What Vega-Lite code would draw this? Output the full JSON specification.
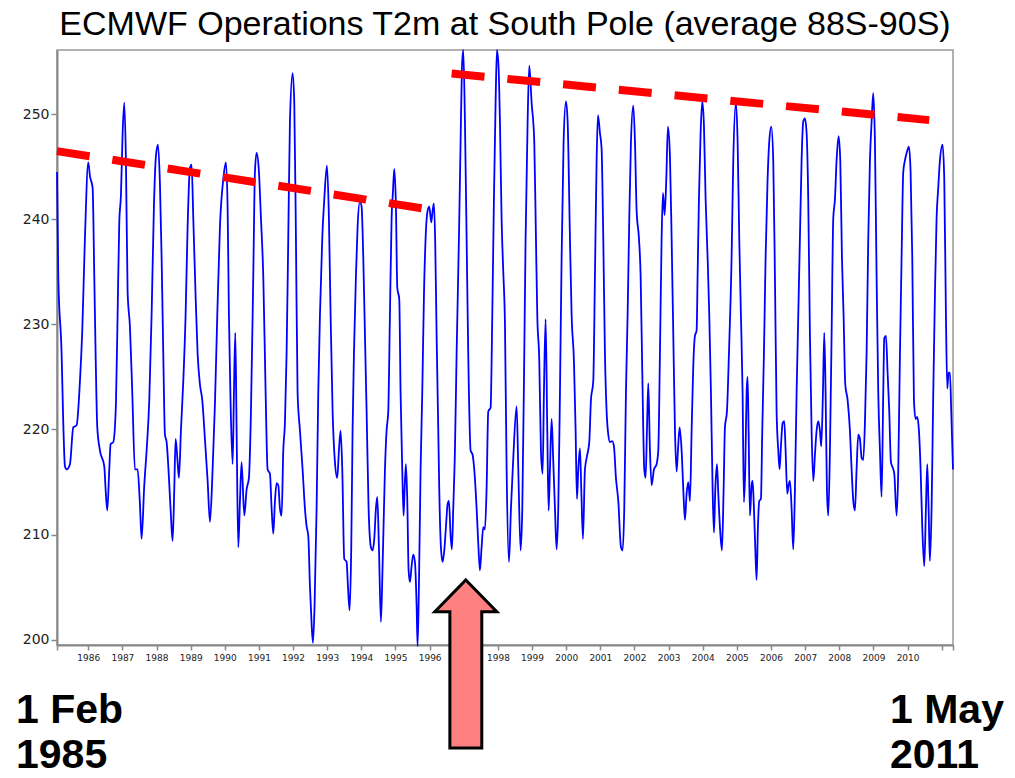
{
"$schema": "https://vega.github.io/schema/vega-lite/v6.json",
"width": 896, "height": 595,
"autosize": {"type": "none"},
"padding": {"left": 57, "top": 50, "right": 62, "bottom": 133},
"background": "white",
"title": {"text": "ECMWF Operations T2m at South Pole (average 88S-90S)", "font": "Liberation Sans", "fontSize": 34, "fontWeight": "normal", "color": "#000", "anchor": "middle", "baseline": "alphabetic", "offset": -23},
"config": {"view": {"stroke": "#999", "strokeWidth": 1.5}, "axis": {"grid": false, "domainColor": "#888", "tickColor": "#888", "domainWidth": 2, "tickWidth": 1.5, "labelColor": "#222", "labelFont": "DejaVu Sans", "title": null, "labelOverlap": false}},
"datasets": {
"t2m": [
{"t":1985.085,"v":244.5},{"t":1985.122,"v":234.6},{"t":1985.220,"v":227.2},{"t":1985.269,"v":220.6},{"t":1985.318,"v":216.5},{"t":1985.366,"v":216.2},{"t":1985.464,"v":216.7},{"t":1985.562,"v":220.2},{"t":1985.659,"v":220.4},{"t":1985.757,"v":224.6},{"t":1985.825,"v":229.4},{"t":1985.903,"v":238.2},{"t":1986.001,"v":245.4},{"t":1986.050,"v":244.1},{"t":1986.128,"v":243.0},{"t":1986.177,"v":234.6},{"t":1986.216,"v":227.2},{"t":1986.265,"v":220.2},{"t":1986.343,"v":218.0},{"t":1986.470,"v":216.5},{"t":1986.509,"v":214.3},{"t":1986.558,"v":212.3},{"t":1986.616,"v":216.2},{"t":1986.655,"v":218.6},{"t":1986.733,"v":218.8},{"t":1986.811,"v":222.4},{"t":1986.860,"v":230.9},{"t":1986.909,"v":239.7},{"t":1986.958,"v":242.3},{"t":1987.007,"v":248.2},{"t":1987.055,"v":251.1},{"t":1987.104,"v":245.6},{"t":1987.153,"v":233.1},{"t":1987.221,"v":229.8},{"t":1987.290,"v":223.5},{"t":1987.368,"v":216.2},{"t":1987.446,"v":216.2},{"t":1987.514,"v":212.9},{"t":1987.563,"v":209.6},{"t":1987.641,"v":214.7},{"t":1987.710,"v":218.0},{"t":1987.788,"v":222.8},{"t":1987.856,"v":230.9},{"t":1987.924,"v":241.2},{"t":1987.983,"v":246.0},{"t":1988.042,"v":247.1},{"t":1988.100,"v":243.4},{"t":1988.149,"v":236.4},{"t":1988.198,"v":227.2},{"t":1988.247,"v":219.5},{"t":1988.296,"v":218.8},{"t":1988.364,"v":215.4},{"t":1988.422,"v":211.8},{"t":1988.471,"v":209.4},{"t":1988.520,"v":214.3},{"t":1988.559,"v":219.1},{"t":1988.618,"v":216.9},{"t":1988.657,"v":215.4},{"t":1988.715,"v":219.9},{"t":1988.784,"v":224.6},{"t":1988.852,"v":230.9},{"t":1988.911,"v":239.3},{"t":1988.979,"v":244.9},{"t":1989.028,"v":245.2},{"t":1989.077,"v":240.1},{"t":1989.145,"v":232.7},{"t":1989.204,"v":227.2},{"t":1989.272,"v":224.3},{"t":1989.340,"v":222.8},{"t":1989.418,"v":219.1},{"t":1989.497,"v":215.1},{"t":1989.565,"v":211.2},{"t":1989.643,"v":216.2},{"t":1989.711,"v":222.4},{"t":1989.780,"v":230.9},{"t":1989.858,"v":239.3},{"t":1989.955,"v":243.8},{"t":1990.033,"v":245.4},{"t":1990.082,"v":241.2},{"t":1990.121,"v":230.9},{"t":1990.170,"v":222.4},{"t":1990.229,"v":216.7},{"t":1990.268,"v":223.5},{"t":1990.307,"v":229.2},{"t":1990.346,"v":219.9},{"t":1990.395,"v":208.8},{"t":1990.444,"v":213.2},{"t":1990.492,"v":216.9},{"t":1990.571,"v":211.8},{"t":1990.639,"v":214.3},{"t":1990.707,"v":215.4},{"t":1990.766,"v":221.7},{"t":1990.834,"v":234.6},{"t":1990.883,"v":244.5},{"t":1990.932,"v":246.3},{"t":1991.000,"v":244.5},{"t":1991.059,"v":240.1},{"t":1991.127,"v":234.6},{"t":1991.196,"v":223.5},{"t":1991.254,"v":216.2},{"t":1991.322,"v":215.8},{"t":1991.371,"v":212.5},{"t":1991.420,"v":210.1},{"t":1991.469,"v":213.2},{"t":1991.518,"v":214.9},{"t":1991.567,"v":214.7},
{"t":1991.615,"v":212.5},{"t":1991.664,"v":211.8},{"t":1991.713,"v":218.0},{"t":1991.761,"v":220.6},{"t":1991.810,"v":227.2},{"t":1991.859,"v":238.2},{"t":1991.908,"v":249.3},{"t":1991.986,"v":253.9},{"t":1992.035,"v":251.1},{"t":1992.084,"v":238.2},{"t":1992.132,"v":223.5},{"t":1992.201,"v":219.9},{"t":1992.279,"v":216.2},{"t":1992.347,"v":212.5},{"t":1992.396,"v":210.8},{"t":1992.445,"v":209.9},{"t":1992.494,"v":205.1},{"t":1992.543,"v":201.5},{"t":1992.582,"v":199.7},{"t":1992.630,"v":203.3},{"t":1992.689,"v":212.5},{"t":1992.738,"v":223.5},{"t":1992.787,"v":230.9},{"t":1992.855,"v":238.2},{"t":1992.914,"v":241.9},{"t":1992.992,"v":245.1},{"t":1993.050,"v":240.1},{"t":1993.099,"v":230.9},{"t":1993.158,"v":221.7},{"t":1993.226,"v":216.9},{"t":1993.294,"v":215.4},{"t":1993.343,"v":218.0},{"t":1993.392,"v":219.9},{"t":1993.441,"v":216.2},{"t":1993.499,"v":207.7},{"t":1993.568,"v":207.4},{"t":1993.607,"v":205.1},{"t":1993.656,"v":202.8},{"t":1993.704,"v":208.8},{"t":1993.743,"v":219.9},{"t":1993.783,"v":227.2},{"t":1993.841,"v":234.6},{"t":1993.890,"v":239.3},{"t":1993.958,"v":241.7},{"t":1994.007,"v":241.2},{"t":1994.056,"v":236.4},{"t":1994.105,"v":229.0},{"t":1994.154,"v":221.7},{"t":1994.212,"v":212.5},{"t":1994.280,"v":208.8},{"t":1994.329,"v":208.5},{"t":1994.378,"v":209.6},{"t":1994.427,"v":212.5},{"t":1994.466,"v":213.6},{"t":1994.515,"v":208.8},{"t":1994.573,"v":201.7},{"t":1994.622,"v":207.0},{"t":1994.691,"v":216.2},{"t":1994.739,"v":219.9},{"t":1994.788,"v":221.7},{"t":1994.837,"v":230.9},{"t":1994.886,"v":240.1},{"t":1994.925,"v":242.6},{"t":1994.964,"v":244.8},{"t":1995.013,"v":241.2},{"t":1995.052,"v":233.5},{"t":1995.110,"v":232.4},{"t":1995.149,"v":223.5},{"t":1995.198,"v":216.2},{"t":1995.237,"v":211.8},{"t":1995.267,"v":214.3},{"t":1995.306,"v":216.7},{"t":1995.345,"v":213.2},{"t":1995.384,"v":206.6},{"t":1995.423,"v":205.5},{"t":1995.472,"v":207.0},{"t":1995.520,"v":208.1},{"t":1995.569,"v":207.4},{"t":1995.618,"v":203.3},{"t":1995.647,"v":199.4},{"t":1995.686,"v":205.1},{"t":1995.735,"v":216.2},{"t":1995.784,"v":223.5},{"t":1995.833,"v":232.7},{"t":1995.882,"v":238.2},{"t":1995.940,"v":240.8},{"t":1995.989,"v":241.2},{"t":1996.048,"v":239.7},{"t":1996.087,"v":240.8},{"t":1996.126,"v":241.5},{"t":1996.165,"v":237.5},{"t":1996.204,"v":229.0},{"t":1996.253,"v":219.9},{"t":1996.282,"v":214.3},{"t":1996.331,"v":208.8},{"t":1996.380,"v":207.4},{"t":1996.429,"v":208.5},{"t":1996.477,"v":210.7},{"t":1996.526,"v":212.9},{"t":1996.565,"v":213.2},{"t":1996.614,"v":209.9},{"t":1996.653,"v":208.6},{"t":1996.692,"v":212.5},{"t":1996.741,"v":218.0},{"t":1996.790,"v":227.2},{"t":1996.858,"v":238.2},{"t":1996.907,"v":247.4},{"t":1996.946,"v":254.4},{"t":1996.985,"v":256.1},{"t":1997.034,"v":249.3},{"t":1997.083,"v":238.2},{"t":1997.131,"v":227.2},{"t":1997.200,"v":218.0},{"t":1997.258,"v":217.6},{"t":1997.307,"v":216.2},{"t":1997.376,"v":212.5},{"t":1997.424,"v":209.2},{"t":1997.473,"v":206.6},{"t":1997.522,"v":208.8},{"t":1997.571,"v":210.7},{"t":1997.620,"v":210.5},{"t":1997.668,"v":214.3},{"t":1997.717,"v":221.7},{"t":1997.786,"v":222.1},{"t":1997.835,"v":230.9},{"t":1997.883,"v":241.9},{"t":1997.932,"v":251.1},{"t":1997.971,"v":256.1},{"t":1998.020,"v":254.4},{"t":1998.059,"v":249.3},{"t":1998.108,"v":240.0},{"t":1998.157,"v":235.0},
{"t":1998.206,"v":230.1},{"t":1998.255,"v":216.2},{"t":1998.323,"v":207.4},{"t":1998.382,"v":212.5},{"t":1998.450,"v":217.3},{"t":1998.548,"v":222.2},{"t":1998.597,"v":216.2},{"t":1998.665,"v":208.5},{"t":1998.714,"v":212.5},{"t":1998.772,"v":227.2},{"t":1998.811,"v":238.2},{"t":1998.870,"v":249.3},{"t":1998.919,"v":254.6},{"t":1998.987,"v":251.1},{"t":1999.065,"v":247.4},{"t":1999.114,"v":238.2},{"t":1999.153,"v":230.9},{"t":1999.212,"v":226.5},{"t":1999.260,"v":218.0},{"t":1999.309,"v":215.8},{"t":1999.348,"v":223.5},{"t":1999.397,"v":230.5},{"t":1999.446,"v":219.9},{"t":1999.485,"v":212.3},{"t":1999.524,"v":216.2},{"t":1999.573,"v":221.0},{"t":1999.622,"v":216.9},{"t":1999.671,"v":212.5},{"t":1999.719,"v":208.6},{"t":1999.768,"v":212.5},{"t":1999.817,"v":223.5},{"t":1999.866,"v":236.4},{"t":1999.924,"v":247.4},{"t":1999.993,"v":251.2},{"t":2000.042,"v":249.3},{"t":2000.110,"v":238.2},{"t":2000.159,"v":230.9},{"t":2000.227,"v":226.5},{"t":2000.276,"v":219.9},{"t":2000.315,"v":213.4},{"t":2000.354,"v":216.2},{"t":2000.403,"v":218.2},{"t":2000.442,"v":214.3},{"t":2000.491,"v":209.6},{"t":2000.549,"v":216.2},{"t":2000.618,"v":217.6},{"t":2000.676,"v":218.8},{"t":2000.725,"v":222.8},{"t":2000.793,"v":224.6},{"t":2000.842,"v":234.6},{"t":2000.891,"v":245.6},{"t":2000.930,"v":249.9},{"t":2000.989,"v":248.2},{"t":2001.037,"v":246.7},{"t":2001.086,"v":238.2},{"t":2001.135,"v":227.2},{"t":2001.184,"v":221.7},{"t":2001.233,"v":219.5},{"t":2001.282,"v":218.8},{"t":2001.350,"v":218.9},{"t":2001.399,"v":218.4},{"t":2001.457,"v":215.4},{"t":2001.526,"v":213.2},{"t":2001.604,"v":208.8},{"t":2001.653,"v":208.5},{"t":2001.701,"v":212.5},{"t":2001.750,"v":223.5},{"t":2001.799,"v":230.9},{"t":2001.848,"v":240.1},{"t":2001.897,"v":247.4},{"t":2001.965,"v":250.8},{"t":2002.014,"v":247.4},{"t":2002.063,"v":240.8},{"t":2002.131,"v":238.2},{"t":2002.180,"v":234.6},{"t":2002.229,"v":225.4},{"t":2002.287,"v":216.2},{"t":2002.326,"v":215.4},{"t":2002.365,"v":219.9},{"t":2002.404,"v":224.4},{"t":2002.453,"v":218.0},{"t":2002.502,"v":214.7},{"t":2002.570,"v":216.2},{"t":2002.648,"v":216.7},{"t":2002.697,"v":218.0},{"t":2002.746,"v":227.2},{"t":2002.795,"v":238.2},{"t":2002.834,"v":242.5},{"t":2002.883,"v":240.4},{"t":2002.932,"v":243.8},{"t":2002.980,"v":248.8},{"t":2003.039,"v":246.0},{"t":2003.088,"v":238.2},{"t":2003.137,"v":229.0},{"t":2003.186,"v":219.9},{"t":2003.234,"v":216.0},{"t":2003.273,"v":218.0},{"t":2003.322,"v":220.2},{"t":2003.381,"v":218.0},{"t":2003.430,"v":214.3},{"t":2003.478,"v":211.4},{"t":2003.527,"v":213.9},{"t":2003.576,"v":215.0},{"t":2003.625,"v":213.2},{"t":2003.674,"v":219.9},{"t":2003.723,"v":226.1},{"t":2003.771,"v":228.9},{"t":2003.820,"v":229.4},{"t":2003.849,"v":234.6},{"t":2003.888,"v":241.9},{"t":2003.937,"v":248.2},{"t":2003.986,"v":251.2},{"t":2004.035,"v":248.9},{"t":2004.084,"v":241.9},{"t":2004.142,"v":236.4},{"t":2004.191,"v":230.9},{"t":2004.240,"v":223.5},{"t":2004.289,"v":214.3},{"t":2004.328,"v":210.2},{"t":2004.367,"v":214.3},{"t":2004.416,"v":216.7},{"t":2004.455,"v":213.9},{"t":2004.504,"v":210.7},{"t":2004.562,"v":208.5},{"t":2004.611,"v":214.3},{"t":2004.650,"v":220.2},{"t":2004.708,"v":221.7},{"t":2004.767,"v":227.2},
{"t":2004.845,"v":236.4},{"t":2004.894,"v":245.6},{"t":2004.972,"v":251.1},{"t":2005.021,"v":247.4},{"t":2005.069,"v":238.2},{"t":2005.118,"v":230.9},{"t":2005.167,"v":223.5},{"t":2005.206,"v":213.1},{"t":2005.245,"v":216.2},{"t":2005.284,"v":223.5},{"t":2005.313,"v":225.0},{"t":2005.343,"v":219.9},{"t":2005.382,"v":211.8},{"t":2005.431,"v":214.7},{"t":2005.460,"v":215.1},{"t":2005.499,"v":212.5},{"t":2005.538,"v":208.8},{"t":2005.577,"v":205.7},{"t":2005.616,"v":210.7},{"t":2005.655,"v":213.2},{"t":2005.704,"v":213.4},{"t":2005.743,"v":219.9},{"t":2005.792,"v":227.2},{"t":2005.841,"v":236.4},{"t":2005.899,"v":243.8},{"t":2005.948,"v":247.4},{"t":2006.007,"v":248.8},{"t":2006.065,"v":245.6},{"t":2006.114,"v":234.6},{"t":2006.163,"v":221.7},{"t":2006.212,"v":218.0},{"t":2006.251,"v":216.2},{"t":2006.290,"v":218.4},{"t":2006.339,"v":220.6},{"t":2006.387,"v":220.8},{"t":2006.427,"v":218.0},{"t":2006.475,"v":213.9},{"t":2006.514,"v":214.7},{"t":2006.553,"v":215.1},{"t":2006.602,"v":212.5},{"t":2006.651,"v":208.6},{"t":2006.700,"v":214.3},{"t":2006.749,"v":223.5},{"t":2006.798,"v":230.9},{"t":2006.846,"v":238.2},{"t":2006.895,"v":245.6},{"t":2006.944,"v":249.3},{"t":2006.993,"v":249.6},{"t":2007.042,"v":248.2},{"t":2007.090,"v":241.9},{"t":2007.139,"v":229.0},{"t":2007.188,"v":219.9},{"t":2007.237,"v":215.1},{"t":2007.286,"v":217.6},{"t":2007.335,"v":219.9},{"t":2007.383,"v":220.8},{"t":2007.432,"v":219.9},{"t":2007.471,"v":218.4},{"t":2007.520,"v":223.5},{"t":2007.559,"v":229.2},{"t":2007.598,"v":223.5},{"t":2007.637,"v":214.3},{"t":2007.676,"v":211.8},{"t":2007.725,"v":218.0},{"t":2007.774,"v":229.0},{"t":2007.823,"v":240.1},{"t":2007.872,"v":241.9},{"t":2007.920,"v":245.6},{"t":2007.979,"v":247.9},{"t":2008.028,"v":245.6},{"t":2008.077,"v":236.4},{"t":2008.125,"v":230.9},{"t":2008.174,"v":224.3},{"t":2008.243,"v":222.8},{"t":2008.311,"v":219.9},{"t":2008.360,"v":216.2},{"t":2008.409,"v":213.2},{"t":2008.458,"v":212.3},{"t":2008.506,"v":216.2},{"t":2008.555,"v":219.5},{"t":2008.604,"v":219.1},{"t":2008.653,"v":217.3},{"t":2008.701,"v":217.1},{"t":2008.750,"v":220.6},{"t":2008.799,"v":227.2},{"t":2008.848,"v":238.2},{"t":2008.897,"v":245.6},{"t":2008.946,"v":249.3},{"t":2008.994,"v":252.0},{"t":2009.043,"v":247.4},{"t":2009.092,"v":234.6},{"t":2009.141,"v":223.5},{"t":2009.190,"v":218.0},{"t":2009.238,"v":213.6},{"t":2009.287,"v":223.5},{"t":2009.317,"v":228.7},{"t":2009.366,"v":228.9},{"t":2009.414,"v":225.4},{"t":2009.463,"v":221.7},{"t":2009.512,"v":216.9},{"t":2009.561,"v":216.4},{"t":2009.610,"v":215.8},{"t":2009.678,"v":211.8},{"t":2009.727,"v":216.2},{"t":2009.776,"v":227.2},{"t":2009.824,"v":236.4},{"t":2009.873,"v":244.5},{"t":2009.922,"v":245.6},{"t":2009.971,"v":246.3},{"t":2010.039,"v":246.9},{"t":2010.088,"v":244.5},{"t":2010.137,"v":236.4},{"t":2010.186,"v":222.8},{"t":2010.234,"v":221.0},{"t":2010.283,"v":221.2},{"t":2010.332,"v":219.9},{"t":2010.381,"v":216.2},{"t":2010.430,"v":210.7},{"t":2010.488,"v":207.0},{"t":2010.537,"v":212.5},{"t":2010.576,"v":216.7},{"t":2010.615,"v":212.5},{"t":2010.654,"v":207.5},{"t":2010.703,"v":212.5},{"t":2010.752,"v":223.5},{"t":2010.800,"v":232.7},{"t":2010.849,"v":240.1},{"t":2010.898,"v":243.0},{"t":2010.947,"v":245.6},{"t":2011.025,"v":247.1},{"t":2011.074,"v":243.8},{"t":2011.123,"v":230.9},{"t":2011.162,"v":223.9},{"t":2011.201,"v":225.4},{"t":2011.240,"v":225.4},{"t":2011.279,"v":221.7},{"t":2011.330,"v":216.2}
],
"trend": [
{"seg":"before","t":1985.085,"v":246.48},{"seg":"before","t":1995.774,"v":241.04},
{"seg":"after","t":1996.644,"v":253.87},{"seg":"after","t":2010.634,"v":249.43}
],
"arrow": [{"t":1997.06}],
"ends": [{"side":"start","label":"1 Feb\n1985","t":1985.085},{"side":"end","label":"1 May\n2011","t":2011.33}]
},
"encoding": {
"x": {"field": "t", "type": "quantitative", "scale": {"domain": [1985.085, 2011.33], "nice": false, "zero": false},
 "axis": {"values": [1985.085,1986,1987,1988,1989,1990,1991,1992,1993,1994,1995,1996,1997,1998,1999,2000,2001,2002,2003,2004,2005,2006,2007,2008,2009,2010,2011,2011.33], "labelExpr": "(datum.value >= 1986 && datum.value <= 2010 && floor(datum.value) == datum.value) ? format(datum.value, 'd') : ''", "labelFontSize": 9, "tickSize": 5, "labelPadding": 3, "labelOverlap": false, "labelSeparation": 0, "labelBound": false, "labelFlush": false}},
"y": {"field": "v", "type": "quantitative", "scale": {"domain": [199.5, 256.1], "nice": false, "zero": false},
 "axis": {"values": [200,210,220,230,240,250], "labelFontSize": 14, "tickSize": 6, "labelPadding": 2}}
},
"layer": [
{"data": {"name": "t2m"}, "mark": {"type": "line", "color": "#0000ff", "strokeWidth": 1.8, "interpolate": "monotone"}},
{"data": {"name": "trend"}, "mark": {"type": "line", "color": "#ff0000", "strokeWidth": 8, "strokeDash": [33, 23], "strokeCap": "butt"}, "encoding": {"detail": {"field": "seg"}}},
{"data": {"name": "arrow"}, "mark": {"type": "point", "filled": true, "fill": "#ff8080", "stroke": "#000", "strokeWidth": 3, "opacity": 1, "fillOpacity": 1, "size": 28224, "shape": "M0,-0.774 L0.369,-0.396 L0.19,-0.396 L0.19,1.226 L-0.19,1.226 L-0.19,-0.396 L-0.369,-0.396 Z"}, "encoding": {"y": {"value": "height"}}},
{"data": {"name": "ends"}, "transform": [{"filter": "datum.side == 'start'"}], "mark": {"type": "text", "font": "Liberation Sans", "fontWeight": "bold", "fontSize": 41, "align": "left", "baseline": "alphabetic", "lineBreak": "\n", "lineHeight": 45, "color": "#000", "dx": -41, "dy": 78}, "encoding": {"y": {"value": "height"}, "text": {"field": "label"}}},
{"data": {"name": "ends"}, "transform": [{"filter": "datum.side == 'end'"}], "mark": {"type": "text", "font": "Liberation Sans", "fontWeight": "bold", "fontSize": 41, "align": "left", "baseline": "alphabetic", "lineBreak": "\n", "lineHeight": 45, "color": "#000", "dx": -63, "dy": 78}, "encoding": {"y": {"value": "height"}, "text": {"field": "label"}}}
]
}
